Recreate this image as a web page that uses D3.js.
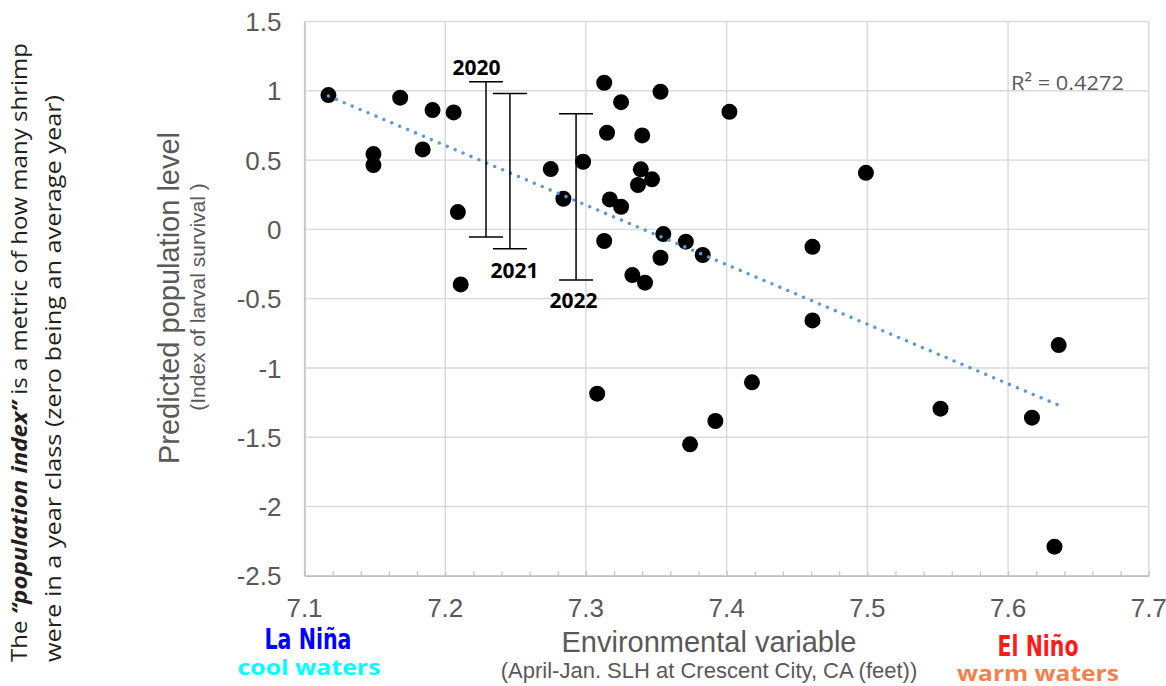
<!DOCTYPE html>
<html>
<head>
<meta charset="utf-8">
<script src="https://cdn.jsdelivr.net/npm/d3@7/dist/d3.min.js"></script>
<style>
  html, body { margin: 0; padding: 0; background: #ffffff; }
  svg { display: block; }
</style>
</head>
<body>
<svg id="chart" width="1166" height="686"></svg>
<script>
// ---------------- DATA ----------------
const xTicks = [7.1, 7.2, 7.3, 7.4, 7.5, 7.6, 7.7];
const yTicks = [-2.5, -2, -1.5, -1, -0.5, 0, 0.5, 1, 1.5];
const xTickLabels = ["7.1", "7.2", "7.3", "7.4", "7.5", "7.6", "7.7"];
const yTickLabels = ["-2.5", "-2", "-1.5", "-1", "-0.5", "0", "0.5", "1", "1.5"];

// Environmental variable (SLH, feet)
const slh = [7.117, 7.149, 7.149, 7.168, 7.191, 7.184, 7.206, 7.209, 7.211,
             7.275, 7.284, 7.298, 7.313, 7.353, 7.325, 7.402, 7.315, 7.340,
             7.339, 7.347, 7.337, 7.317, 7.325, 7.313, 7.355, 7.371, 7.383,
             7.353, 7.333, 7.342, 7.308, 7.418, 7.392, 7.374, 7.499, 7.461,
             7.461, 7.636, 7.552, 7.617, 7.633];
// Population index
const popIndex = [0.969, 0.543, 0.464, 0.950, 0.861, 0.577, 0.844, 0.125, -0.397,
                  0.435, 0.221, 0.488, 1.058, 0.993, 0.918, 0.848, 0.697, 0.678,
                  0.433, 0.361, 0.320, 0.216, 0.163, -0.084, -0.034, -0.089, -0.185,
                  -0.205, -0.330, -0.385, -1.186, -1.104, -1.383, -1.551, 0.408, -0.126,
                  -0.657, -0.835, -1.294, -1.359, -2.290];

// Predicted ranges for recent years
const barYears = ["2020", "2021", "2022"];
const barX = [7.229, 7.246, 7.293];
const barLow = [-0.056, -0.140, -0.366];
const barHigh = [1.065, 0.981, 0.834];

const r2Text = "R\u00B2 = 0.4272";

// ---------------- LAYOUT ----------------
const svg = d3.select("#chart");
const x = d3.scaleLinear().domain([7.1, 7.7]).range([304.5, 1148.75]);
const y = d3.scaleLinear().domain([-2.5, 1.5]).range([575.8, 21.5]);

const gridColor = "#d9d9d9";
const textGray = "#595959";

// gridlines
const minorX = d3.range(0, 31).map(i => 7.1 + i * 0.02);
svg.append("g").selectAll("line.hg").data(yTicks).join("line")
  .attr("x1", x(7.1)).attr("x2", x(7.7))
  .attr("y1", d => y(d)).attr("y2", d => y(d))
  .attr("stroke", gridColor).attr("stroke-width", 1.4);
svg.append("g").selectAll("line.vg").data(xTicks).join("line")
  .attr("x1", d => x(d)).attr("x2", d => x(d))
  .attr("y1", y(1.5)).attr("y2", y(-2.5))
  .attr("stroke", gridColor).attr("stroke-width", 1.4);

// bottom axis
const xAxis = d3.axisBottom(x).tickValues(minorX).tickSizeInner(-4.5).tickSizeOuter(0).tickFormat("");
const gx = svg.append("g").attr("transform", `translate(0,${y(-2.5)})`).call(xAxis);
gx.select(".domain").attr("stroke", "#bfbfbf").attr("stroke-width", 1.4);
gx.selectAll(".tick line").attr("stroke", "#bfbfbf").attr("stroke-width", 1.2);

// left axis
const yAxis = d3.axisLeft(y).tickValues(yTicks).tickSize(0).tickFormat((d, i) => yTickLabels[i]);
const gy = svg.append("g").attr("transform", `translate(${x(7.1)},0)`).call(yAxis);
gy.select(".domain").attr("stroke", "#bfbfbf").attr("stroke-width", 1.4);
gy.selectAll(".tick text")
  .attr("x", -23).attr("dy", "0.35em")
  .attr("font-family", "'Liberation Sans', Arial, sans-serif")
  .attr("font-size", 26).attr("fill", textGray);

// x tick labels
svg.append("g").selectAll("text").data(xTicks).join("text")
  .attr("x", d => x(d)).attr("y", 617)
  .attr("text-anchor", "middle")
  .attr("font-family", "'Liberation Sans', Arial, sans-serif")
  .attr("font-size", 26).attr("fill", textGray)
  .text((d, i) => xTickLabels[i]);

// scatter points
svg.append("g").selectAll("circle").data(slh.map((v, i) => [v, popIndex[i]])).join("circle")
  .attr("cx", d => x(d[0])).attr("cy", d => y(d[1])).attr("r", 8)
  .attr("fill", "#000000");

// linear trendline (least squares)
const n = slh.length;
const mx = d3.mean(slh), my = d3.mean(popIndex);
let sxy = 0, sxx = 0;
for (let i = 0; i < n; i++) { sxy += (slh[i] - mx) * (popIndex[i] - my); sxx += (slh[i] - mx) ** 2; }
const slope = sxy / sxx, intercept = my - slope * mx;
const x0 = d3.min(slh), x1 = d3.max(slh);
svg.append("line")
  .attr("x1", x(x0)).attr("y1", y(intercept + slope * x0))
  .attr("x2", x(x1)).attr("y2", y(intercept + slope * x1))
  .attr("stroke", "#5b9bd5").attr("stroke-width", 3.6)
  .attr("stroke-linecap", "round").attr("stroke-dasharray", "0 8.6");

// error bars
const bars = svg.append("g");
barYears.forEach((yr, i) => {
  const cx = x(barX[i]);
  bars.append("line").attr("x1", cx).attr("x2", cx).attr("y1", y(barHigh[i])).attr("y2", y(barLow[i]))
    .attr("stroke", "#000").attr("stroke-width", 1.5);
  [barHigh[i], barLow[i]].forEach(v => {
    bars.append("line").attr("x1", cx - 17).attr("x2", cx + 17).attr("y1", y(v)).attr("y2", y(v))
      .attr("stroke", "#000").attr("stroke-width", 1.5);
  });
});
const labelDx = [-9.5, 4.5, -2.5];
const labelDy = [-6.5, 29, 28];
barYears.forEach((yr, i) => {
  const above = i === 0;
  bars.append("text")
    .attr("x", x(barX[i]) + labelDx[i])
    .attr("y", (above ? y(barHigh[i]) : y(barLow[i])) + labelDy[i])
    .attr("text-anchor", "middle")
    .attr("font-family", "'Open Sans', sans-serif").attr("font-weight", 700)
    .attr("font-size", 21).attr("fill", "#000")
    .text(yr);
});

// R² label
svg.append("text").attr("x", 1011).attr("y", 89.5)
  .attr("font-family", "'Open Sans', sans-serif").attr("font-size", 20)
  .attr("fill", textGray).attr("textLength", 113).attr("lengthAdjust", "spacingAndGlyphs")
  .text(r2Text);

// axis titles
svg.append("text").attr("x", 709).attr("y", 652).attr("text-anchor", "middle")
  .attr("font-family", "'Liberation Sans', Arial, sans-serif").attr("font-size", 29)
  .attr("fill", textGray).text("Environmental variable");
svg.append("text").attr("x", 709).attr("y", 678).attr("text-anchor", "middle")
  .attr("font-family", "'Liberation Sans', Arial, sans-serif").attr("font-size", 22)
  .attr("fill", textGray).text("(April-Jan. SLH at Crescent City, CA (feet))");

svg.append("text").attr("transform", "translate(179,298) rotate(-90)").attr("text-anchor", "middle")
  .attr("font-family", "'Liberation Sans', Arial, sans-serif").attr("font-size", 29)
  .attr("fill", textGray).text("Predicted population level");
svg.append("text").attr("transform", "translate(205,297) rotate(-90)").attr("text-anchor", "middle")
  .attr("font-family", "'Liberation Sans', Arial, sans-serif").attr("font-size", 21)
  .attr("fill", textGray).text("(Index of larval survival )");

// left explanatory text
const t1 = svg.append("text").attr("transform", "translate(27,662) rotate(-90)")
  .attr("font-family", "'Open Sans', sans-serif").attr("font-size", 22).attr("fill", "#231f20")
  .attr("textLength", 619).attr("lengthAdjust", "spacingAndGlyphs");
t1.append("tspan").text("The ");
t1.append("tspan").attr("font-style", "italic").attr("font-weight", 700).text("\u201Cpopulation index\u201D");
t1.append("tspan").text("  is a metric of how many shrimp");
svg.append("text").attr("transform", "translate(61,662) rotate(-90)")
  .attr("font-family", "'Open Sans', sans-serif").attr("font-size", 22).attr("fill", "#231f20")
  .attr("textLength", 567).attr("lengthAdjust", "spacingAndGlyphs")
  .text("were in a year class (zero being an average year)");

// La Niña / El Niño annotations
function label(txt, cx, by, size, w, color, family, weight) {
  svg.append("text").attr("x", cx - w / 2).attr("y", by)
    .attr("font-family", family).attr("font-weight", weight).attr("font-size", size)
    .attr("fill", color).attr("textLength", w).attr("lengthAdjust", "spacingAndGlyphs")
    .text(txt);
}
label("La Niña", 308, 649, 29, 87, "#0000ff", "'DejaVu Sans Condensed', 'DejaVu Sans', sans-serif", 700);
label("cool waters", 309, 675, 22, 143, "#00ffff", "'Open Sans', sans-serif", 700);
label("El Niño", 1038, 656, 28, 81, "#ff1a1a", "'DejaVu Sans Condensed', 'DejaVu Sans', sans-serif", 700);
label("warm waters", 1038, 681, 22, 162, "#f0824f", "'Open Sans', sans-serif", 700);
</script>
</body>
</html>
